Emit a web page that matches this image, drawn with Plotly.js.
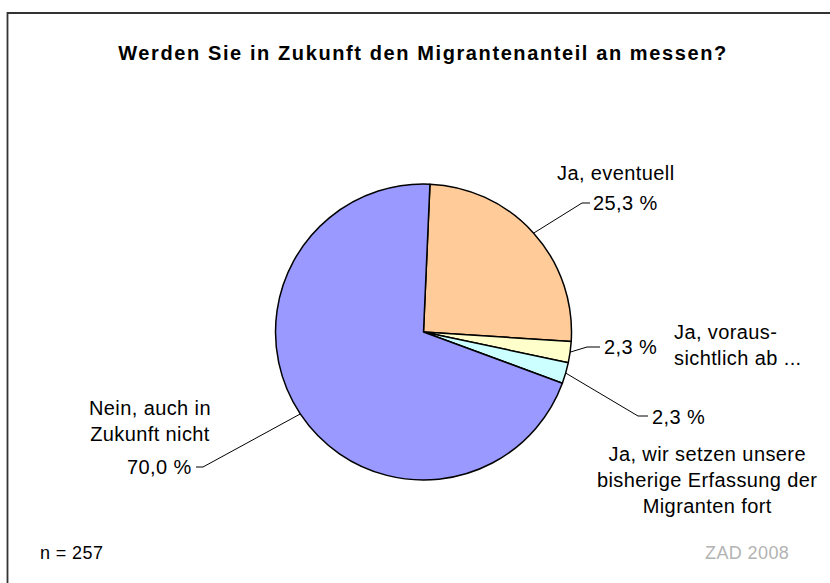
<!DOCTYPE html>
<html>
<head>
<meta charset="utf-8">
<script src="https://cdn.plot.ly/plotly-3.0.1.min.js"></script>
<style>
html,body{margin:0;padding:0;background:#fff;overflow:hidden;}
#chart{width:830px;height:583px;overflow:hidden;}
.gtitle{letter-spacing:1.6px;}
.annotation-text{letter-spacing:0.4px;}
</style>
</head>
<body>
<div id="chart"></div>
<script>
// ---- data ----
var categories = ["Ja, eventuell", "Ja, voraussichtlich ab ...", "Ja, wir setzen unsere bisherige Erfassung der Migranten fort", "Nein, auch in Zukunft nicht"];
var labelLines = [
  "Ja, eventuell",
  "Ja, voraus-<br>sichtlich ab ...",
  "Ja, wir setzen unsere<br>bisherige Erfassung der<br>Migranten fort",
  "Nein, auch in<br>Zukunft nicht"
];
var values = [25.3, 2.3, 2.3, 70.0];
var colors = ["#FFCC99", "#FFFFCC", "#CCFFFF", "#9999FF"];
var titleText = "Werden Sie in Zukunft den Migrantenanteil an messen?";
var noteLeft = "n = 257";
var noteRight = "ZAD 2008";

// ---- layout constants (pixels) ----
var W = 830, H = 583;
var CX = 423.5, CY = 332, R = 148, ROT = 2.5;
var FONT = "Liberation Sans, Arial, sans-serif";
function px(x){ return x / W; }
function py(y){ return 1 - y / H; }

// label placement (pixels): leader elbow, leader end, pct text anchor, category text anchor
var place = [
  {elbow:[582,203], end:[590,203], pct:[591,203,'left'], cat:[615.5,173,'center','center']},
  {elbow:[587,347], end:[600,347], pct:[602,347,'left'], cat:[672,345,'left','left']},
  {elbow:[638,416], end:[648,416], pct:[650,417,'left'], cat:[707,480,'center','center']},
  {elbow:[203,467], end:[196,467], pct:[194,467,'right'], cat:[150,421,'center','center']}
];

function fmtPct(v){ return v.toFixed(1).replace('.', ',') + ' %'; }

var total = values.reduce(function(a,b){return a+b;}, 0);
var shapes = [];
var annotations = [];
var cum = 0;
for (var i = 0; i < values.length; i++) {
  var mid = (ROT + (cum + values[i] / 2) / total * 360) * Math.PI / 180;
  cum += values[i];
  var ax = CX + R * Math.sin(mid), ay = CY - R * Math.cos(mid);
  var p = place[i];
  shapes.push({
    type: 'path', xref: 'paper', yref: 'paper',
    path: 'M ' + px(ax) + ' ' + py(ay) + ' L ' + px(p.elbow[0]) + ' ' + py(p.elbow[1]) + ' L ' + px(p.end[0]) + ' ' + py(p.end[1]),
    line: {color: '#000', width: 1}
  });
  annotations.push({
    xref: 'paper', yref: 'paper', x: px(p.pct[0]), y: py(p.pct[1]),
    xanchor: p.pct[2], yanchor: 'middle', showarrow: false,
    text: fmtPct(values[i]), font: {family: FONT, size: 20, color: '#000'}
  });
  annotations.push({
    xref: 'paper', yref: 'paper', x: px(p.cat[0]), y: py(p.cat[1]),
    xanchor: p.cat[2], yanchor: 'middle', align: p.cat[3], showarrow: false,
    text: labelLines[i], font: {family: FONT, size: 20, color: '#000'}
  });
}
annotations.push({
  xref: 'paper', yref: 'paper', x: px(38), y: py(553), xanchor: 'left', yanchor: 'middle',
  showarrow: false, text: noteLeft, font: {family: FONT, size: 18, color: '#000'}
});
annotations.push({
  xref: 'paper', yref: 'paper', x: px(791), y: py(553), xanchor: 'right', yanchor: 'middle',
  showarrow: false, text: noteRight, font: {family: FONT, size: 18, color: '#B3B3B3'}
});
// frame (top and left edges only; the rest runs off the picture)
shapes.push({
  type: 'path', xref: 'paper', yref: 'paper',
  path: 'M ' + px(7.5) + ' ' + py(600) + ' L ' + px(7.5) + ' ' + py(13) + ' L ' + px(840) + ' ' + py(13),
  line: {color: '#333', width: 1.8}
});

var data = [{
  type: 'pie',
  labels: categories,
  values: values,
  sort: false,
  direction: 'clockwise',
  rotation: ROT,
  textinfo: 'none',
  hoverinfo: 'label+percent',
  marker: {colors: colors, line: {color: '#000', width: 1.5}},
  domain: {x: [px(CX - R), px(CX + R)], y: [py(CY + R), py(CY - R)]},
  showlegend: false
}];

var layout = {
  width: W, height: H,
  margin: {l: 0, r: 0, t: 0, b: 0},
  paper_bgcolor: '#fff',
  showlegend: false,
  title: {
    text: '<b>' + titleText + '</b>',
    x: px(423), xref: 'paper', xanchor: 'center',
    y: py(53), yref: 'paper', yanchor: 'middle',
    font: {family: FONT, size: 20, color: '#000'}
  },
  shapes: shapes,
  annotations: annotations
};

Plotly.newPlot('chart', data, layout, {displayModeBar: false, staticPlot: true});
</script>
</body>
</html>
